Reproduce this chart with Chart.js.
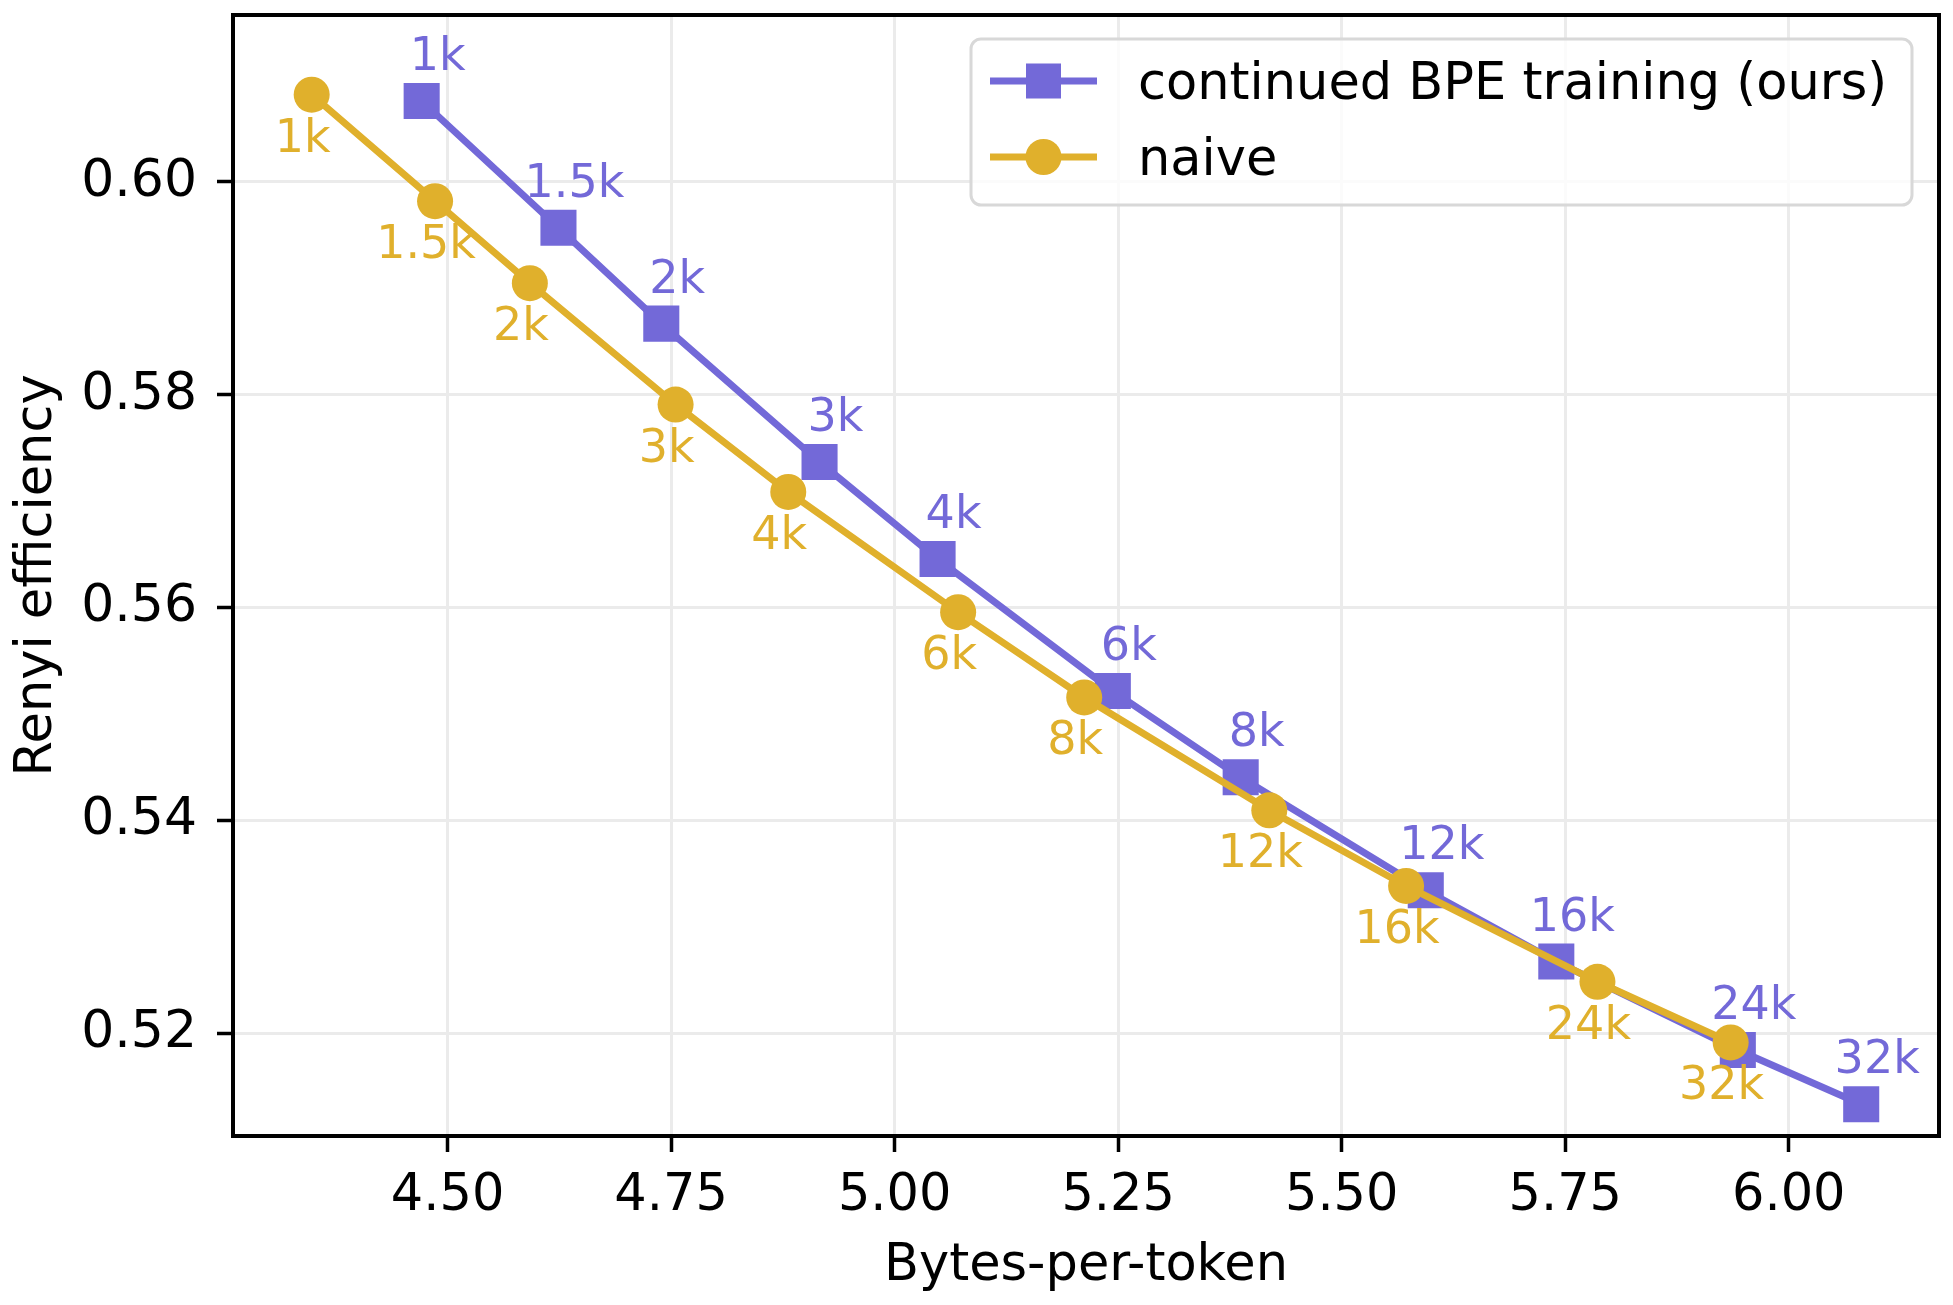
<!DOCTYPE html>
<html><head><meta charset="utf-8">
<script src="https://cdn.jsdelivr.net/npm/chart.js@4.4.1/dist/chart.umd.min.js"></script>
<style>html,body{margin:0;padding:0;background:#fff;} canvas{display:block;}</style>
</head><body>
<canvas id="c" width="1953" height="1305"></canvas>
<script>
// ---- data ----
const vocabSizes = ['1k', '1.5k', '2k', '3k', '4k', '6k', '8k', '12k', '16k', '24k', '32k'];
const oursBytesPerToken = [4.471, 4.624, 4.739, 4.916, 5.048, 5.244, 5.387, 5.594, 5.740, 5.943, 6.081];
const oursRenyi = [0.6076, 0.5957, 0.5867, 0.5737, 0.5646, 0.5522, 0.5441, 0.5335, 0.5268, 0.5185, 0.5134];
const naiveBytesPerToken = [4.348, 4.486, 4.592, 4.755, 4.881, 5.071, 5.212, 5.419, 5.572, 5.786, 5.935];
const naiveRenyi = [0.6082, 0.5982, 0.5905, 0.5791, 0.5709, 0.5596, 0.5516, 0.5410, 0.5339, 0.5249, 0.5192];
const xTickValues = [4.50, 4.75, 5.00, 5.25, 5.50, 5.75, 6.00];
const yTickValues = [0.52, 0.54, 0.56, 0.58, 0.60];
const seriesNames = ['continued BPE training (ours)', 'naive'];
const xAxisTitle = 'Bytes-per-token';
const yAxisTitle = 'Renyi efficiency';

// ---- style ----
const FONT = 'DejaVu Sans';
const PURPLE = '#7369d8';
const GOLD = '#e0b02c';
const LINE_W = 7;

function toPoints(xs, ys) { return xs.map((x, i) => ({x: x, y: ys[i]})); }

const pointLabelPlugin = {
  id: 'pointLabels',
  afterDatasetsDraw(chart) {
    const ctx = chart.ctx;
    chart.data.datasets.forEach((ds, di) => {
      const meta = chart.getDatasetMeta(di);
      const st = ds.labelStyle;
      ctx.save();
      ctx.font = st.size + 'px "' + FONT + '"';
      ctx.fillStyle = ds.borderColor;
      ctx.textAlign = 'center';
      ctx.textBaseline = 'alphabetic';
      meta.data.forEach((el, i) => {
        ctx.fillText(vocabSizes[i], el.x + st.dx, el.y + st.dy);
      });
      ctx.restore();
    });
  }
};

const framePlugin = {
  id: 'frame',
  beforeDatasetsDraw(chart) {
    const a = chart.chartArea, ctx = chart.ctx;
    ctx.save();
    ctx.strokeStyle = '#000';
    ctx.lineWidth = 4;
    ctx.strokeRect(a.left, a.top, a.right - a.left, a.bottom - a.top);
    ctx.restore();
  }
};

const legendPlugin = {
  id: 'boxLegend',
  afterDraw(chart) {
    const ctx = chart.ctx;
    ctx.save();
    ctx.beginPath();
    ctx.roundRect(971, 39, 941, 166, 10);
    ctx.fillStyle = 'rgba(255,255,255,0.8)';
    ctx.fill();
    ctx.lineWidth = 3;
    ctx.strokeStyle = '#d8d8d8';
    ctx.stroke();
    chart.data.datasets.forEach((ds, i) => {
      const y = 81 + i * 76;
      ctx.strokeStyle = ds.borderColor;
      ctx.lineWidth = LINE_W;
      ctx.beginPath();
      ctx.moveTo(990, y);
      ctx.lineTo(1097, y);
      ctx.stroke();
      ctx.fillStyle = ds.borderColor;
      if (ds.pointStyle === 'rect') {
        ctx.fillRect(1043.5 - 17.5, y - 17.5, 35, 35);
      } else {
        ctx.beginPath();
        ctx.arc(1043.5, y, 18, 0, Math.PI * 2);
        ctx.fill();
      }
      ctx.fillStyle = '#000';
      ctx.font = '51px "' + FONT + '"';
      ctx.textAlign = 'left';
      ctx.textBaseline = 'alphabetic';
      ctx.fillText(ds.label, 1138, y + 18);
    });
    ctx.restore();
  }
};

function zeroPad(s) { s.paddingLeft = 0; s.paddingRight = 0; s.paddingTop = 0; s.paddingBottom = 0; }

new Chart(document.getElementById('c'), {
  type: 'line',
  data: {
    datasets: [
      {
        label: seriesNames[0],
        data: toPoints(oursBytesPerToken, oursRenyi),
        borderColor: PURPLE, backgroundColor: PURPLE,
        pointBackgroundColor: PURPLE, pointBorderWidth: 0,
        pointStyle: 'rect', pointRadius: 25.5, pointHoverRadius: 25.5,
        borderWidth: LINE_W, tension: 0, fill: false, order: 2,
        labelStyle: {size: 46, dx: 16, dy: -31}
      },
      {
        label: seriesNames[1],
        data: toPoints(naiveBytesPerToken, naiveRenyi),
        borderColor: GOLD, backgroundColor: GOLD,
        pointBackgroundColor: GOLD, pointBorderWidth: 0,
        pointStyle: 'circle', pointRadius: 18, pointHoverRadius: 18,
        borderWidth: LINE_W, tension: 0, fill: false, order: 1,
        labelStyle: {size: 46, dx: -9, dy: 57}
      }
    ]
  },
  options: {
    responsive: false,
    animation: false,
    devicePixelRatio: 1,
    layout: {autoPadding: false, padding: {left: 0, top: 15, right: 14, bottom: 0}},
    plugins: {legend: {display: false}, tooltip: {enabled: false}},
    events: [],
    scales: {
      x: {
        type: 'linear', min: 4.26, max: 6.168,
        afterBuildTicks: s => { s.ticks = xTickValues.map(v => ({value: v})); },
        afterFit: s => { s.height = 169; zeroPad(s); },
        ticks: {font: {family: FONT, size: 51}, color: '#000', padding: 14, maxRotation: 0, autoSkip: false,
                callback: v => Number(v).toFixed(2)},
        grid: {color: '#ebebeb', lineWidth: 3, tickColor: '#000', tickLength: 16, tickWidth: 3.5, drawTicks: true},
        border: {display: false},
        title: {display: true, text: xAxisTitle, font: {family: FONT, size: 51}, color: '#000', padding: {top: 0, bottom: 8}}
      },
      y: {
        type: 'linear', min: 0.51042, max: 0.61568,
        afterBuildTicks: s => { s.ticks = yTickValues.map(v => ({value: v})); },
        afterFit: s => { s.width = 233; zeroPad(s); },
        ticks: {font: {family: FONT, size: 52}, color: '#000', padding: 20, autoSkip: false,
                callback: v => Number(v).toFixed(2)},
        grid: {color: '#ebebeb', lineWidth: 3, tickColor: '#000', tickLength: 16, tickWidth: 3.5, drawTicks: true},
        border: {display: false},
        title: {display: true, text: yAxisTitle, font: {family: FONT, size: 51}, color: '#000', padding: {top: 7, bottom: 0}}
      }
    }
  },
  plugins: [framePlugin, pointLabelPlugin, legendPlugin]
});
</script>
</body></html>
